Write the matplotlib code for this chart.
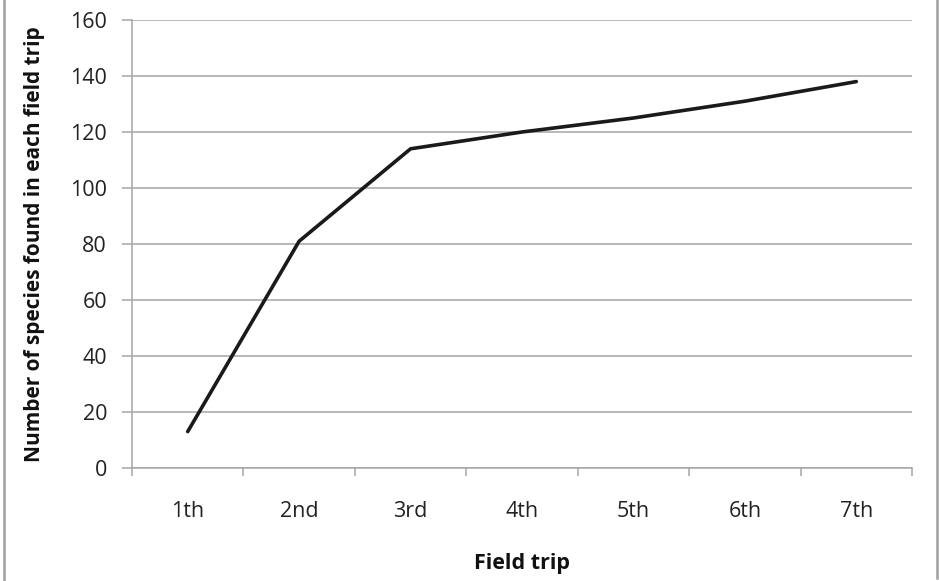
import matplotlib
matplotlib.use("Agg")
import matplotlib.pyplot as plt
from matplotlib.lines import Line2D

categories = ["1th", "2nd", "3rd", "4th", "5th", "6th", "7th"]
species = [13, 81, 114, 120, 125, 131, 138]
yticks = [0, 20, 40, 60, 80, 100, 120, 140, 160]

plt.rcParams['font.family'] = ['Open Sans', 'DejaVu Sans']

fig = plt.figure(figsize=(9.39, 5.81), dpi=100)
ax = fig.add_axes([132/939, 1-468/581, (912-132)/939, (468-20)/581])

grid_c = '#a6a6a6'
x = list(range(len(categories)))
ax.plot(x, species, color='#1a1a1a', linewidth=2.6, solid_capstyle='round', zorder=3)

ax.set_xlim(-0.5, len(categories) - 0.5)
ax.set_ylim(0, 160)
ax.set_yticks(yticks)
ax.set_yticklabels([str(v) for v in yticks], fontsize=15.5, color='#222222')
ax.set_xticks(x)
ax.set_xticklabels(categories, fontsize=15.5, color='#222222')
ax.set_xticks([i - 0.5 for i in range(len(categories) + 1)], minor=True)

ax.yaxis.grid(True, color=grid_c, linewidth=1.1)
ax.set_axisbelow(True)
for s in ['top', 'right']:
    ax.spines[s].set_visible(False)
for s in ['left', 'bottom']:
    ax.spines[s].set_color(grid_c)
    ax.spines[s].set_linewidth(1.1)

ax.tick_params(axis='y', which='major', length=7, width=1.1, color=grid_c, pad=11)
ax.tick_params(axis='x', which='major', length=0, pad=24)
ax.tick_params(axis='x', which='minor', length=6, width=1.1, color=grid_c, direction='out')

ax.set_xlabel('Field trip', fontsize=15.5, fontweight='bold', color='#111111')
ax.set_ylabel('Number of species found in each field trip', fontsize=15, fontweight='bold', color='#111111')
ax.xaxis.set_label_coords(0.5, -0.19)
ax.yaxis.set_label_coords(-0.112, 0.5)

fig.add_artist(Line2D([4/939, 4/939], [0, 1], transform=fig.transFigure, color='#a0a0a0', linewidth=1.8))
fig.add_artist(Line2D([937/939, 937/939], [3/581, 1], transform=fig.transFigure, color='#a0a0a0', linewidth=1.8))

fig.savefig('out.png', dpi=100)
